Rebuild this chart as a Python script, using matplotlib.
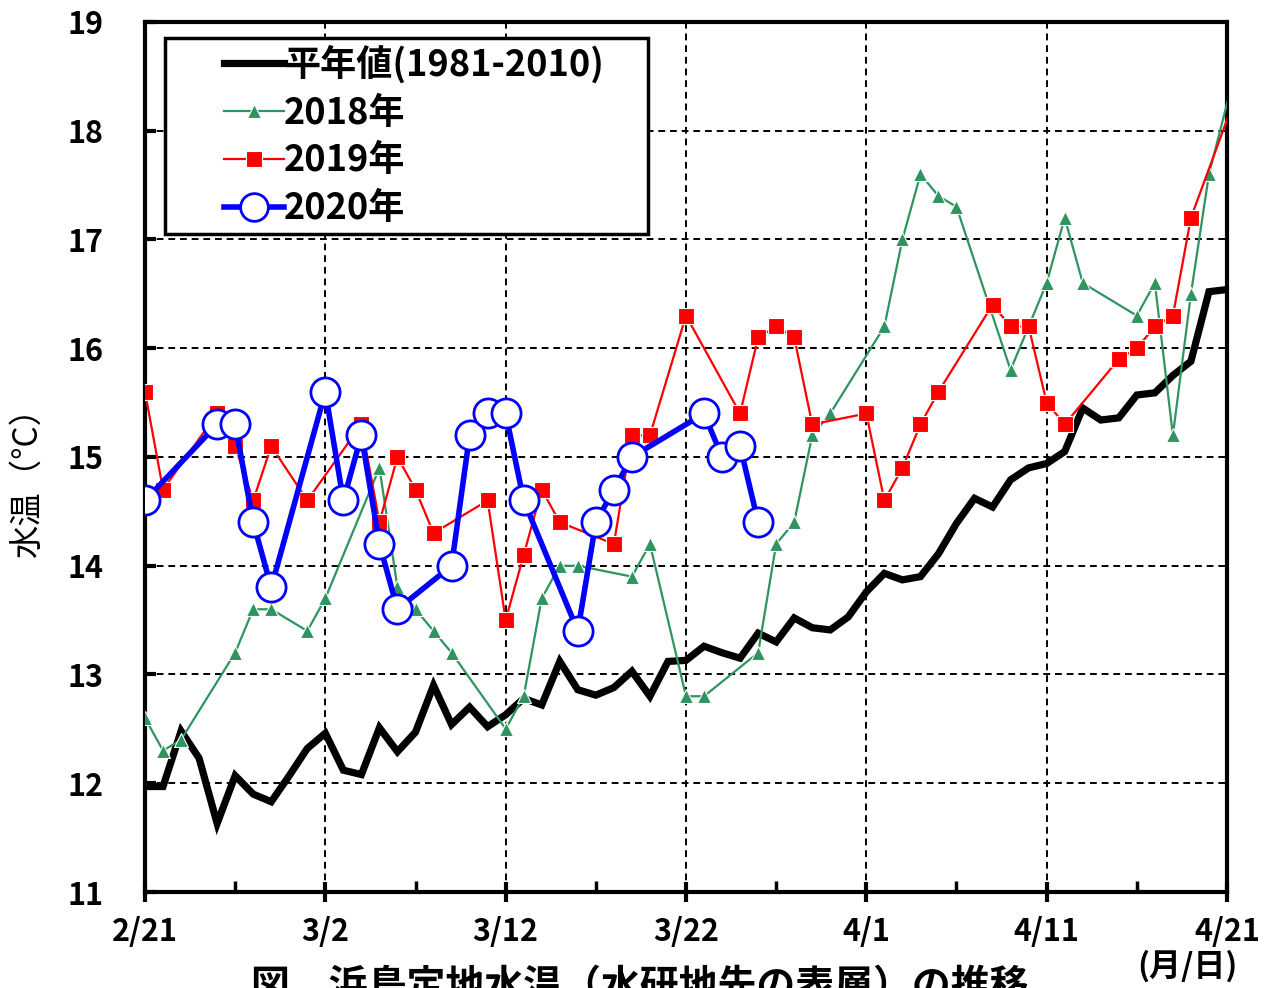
import matplotlib
matplotlib.use("Agg")
import matplotlib.pyplot as plt
from matplotlib.legend_handler import HandlerLine2D
import numpy as np
import warnings
warnings.filterwarnings("ignore")

# ---- data (day offsets from 2/21) ----
normal_days = list(range(0, 61))
normal_vals = [11.97, 11.97, 12.48, 12.23, 11.63, 12.07, 11.90, 11.83, 12.07, 12.32,
               12.46, 12.12, 12.08, 12.51, 12.29, 12.47, 12.90, 12.54, 12.70, 12.52,
               12.63, 12.78, 12.72, 13.12, 12.86, 12.81, 12.88, 13.03, 12.80, 13.12,
               13.13, 13.26, 13.20, 13.15, 13.38, 13.30, 13.52, 13.43, 13.41, 13.53,
               13.76, 13.93, 13.87, 13.90, 14.11, 14.39, 14.62, 14.54, 14.79, 14.90,
               14.94, 15.05, 15.45, 15.34, 15.36, 15.57, 15.59, 15.75, 15.88, 16.52,
               16.54]

y2018_days = [0, 1, 2, 5, 6, 7, 9, 10, 13, 14, 15, 16, 17, 20, 21, 22, 23, 24, 27, 28,
              30, 31, 34, 35, 36, 37, 38, 41, 42, 43, 44, 45, 48, 50, 51, 52, 55, 56,
              57, 58, 59, 61]
y2018_vals = [12.6, 12.3, 12.4, 13.2, 13.6, 13.6, 13.4, 13.7, 14.9, 13.8, 13.6, 13.4,
              13.2, 12.5, 12.8, 13.7, 14.0, 14.0, 13.9, 14.2, 12.8, 12.8, 13.2, 14.2,
              14.4, 15.2, 15.4, 16.2, 17.0, 17.6, 17.4, 17.3, 15.8, 16.6, 17.2, 16.6,
              16.3, 16.6, 15.2, 16.5, 17.6, 18.9]

y2019_days = [0, 1, 4, 5, 6, 7, 9, 12, 13, 14, 15, 16, 19, 20, 21, 22, 23, 26, 27, 28,
              30, 33, 34, 35, 36, 37, 40, 41, 42, 43, 44, 47, 48, 49, 50, 51, 54, 55,
              56, 57, 58, 61]
y2019_vals = [15.6, 14.7, 15.4, 15.1, 14.6, 15.1, 14.6, 15.3, 14.4, 15.0, 14.7, 14.3,
              14.6, 13.5, 14.1, 14.7, 14.4, 14.2, 15.2, 15.2, 16.3, 15.4, 16.1, 16.2,
              16.1, 15.3, 15.4, 14.6, 14.9, 15.3, 15.6, 16.4, 16.2, 16.2, 15.5, 15.3,
              15.9, 16.0, 16.2, 16.3, 17.2, 18.55]

y2020_days = [0, 4, 5, 6, 7, 10, 11, 12, 13, 14, 17, 18, 19, 20, 21, 24, 25, 26, 27,
              31, 32, 33, 34]
y2020_vals = [14.6, 15.3, 15.3, 14.4, 13.8, 15.6, 14.6, 15.2, 14.2, 13.6, 14.0, 15.2,
              15.4, 15.4, 14.6, 13.4, 14.4, 14.7, 15.0, 15.4, 15.0, 15.1, 14.4]

xtick_pos = [0, 10, 20, 30, 40, 50, 60]
xtick_labels = ["2/21", "3/2", "3/12", "3/22", "4/1", "4/11", "4/21"]
ytick_vals = list(range(11, 20))

series_labels = ["平年値(1981-2010)", "2018年", "2019年", "2020年"]

FONT = ["Noto Sans CJK JP", "DejaVu Sans"]
plt.rcParams["font.family"] = FONT


class RightHandler(HandlerLine2D):
    """Legend handle drawn only in the right part of the handle box."""
    def get_xdata(self, legend, xdescent, ydescent, width, height, fontsize):
        x0 = -xdescent + width * 0.46
        x1 = -xdescent + width
        return [x0, x1], [0.5 * (x0 + x1)]


fig = plt.figure(figsize=(12.77, 9.88), dpi=100)
ax = fig.add_axes([145 / 1277, 96 / 988, 1082 / 1277, 870 / 988])

ln0, = ax.plot(normal_days, normal_vals, color="black", lw=5.2, solid_joinstyle="miter",
               label=series_labels[0], zorder=3)
ln1, = ax.plot(y2018_days, y2018_vals, color="#2E9460", lw=1.6, marker="^", ms=10,
               mfc="#2E9460", mec="white", mew=0.8, label=series_labels[1], zorder=4)
ln2, = ax.plot(y2019_days, y2019_vals, color="#FF0000", lw=1.6, marker="s", ms=12,
               mfc="#FF0000", mec="white", mew=0.8, label=series_labels[2], zorder=5)
ln3, = ax.plot(y2020_days, y2020_vals, color="#0000FF", lw=4, marker="o", ms=21,
               mfc="white", mec="#0000FF", mew=2, label=series_labels[3], zorder=6)

ax.set_xlim(0, 60)
ax.set_ylim(11, 19)
ax.set_xticks(xtick_pos)
ax.set_xticklabels(xtick_labels)
ax.set_xticks([5, 15, 25, 35, 45, 55], minor=True)
ax.set_yticks(ytick_vals)

ax.grid(True, which="major", color="black", linestyle=(0, (3.5, 2.5)), lw=1.4)
ax.set_axisbelow(True)

for sp in ax.spines.values():
    sp.set_linewidth(3)
ax.tick_params(axis="x", which="major", direction="inout", length=14, width=3,
               labelsize=22, pad=10)
ax.tick_params(axis="x", which="minor", direction="in", length=8, width=2.5)
ax.tick_params(axis="y", which="major", direction="in", length=8, width=3,
               labelsize=22, pad=30)
for lab in ax.get_xticklabels() + ax.get_yticklabels():
    lab.set_fontweight("bold")

fig.text(27 / 1277, 1 - 474 / 988, "水温（°C）", fontsize=24, rotation=90,
         ha="center", va="center")

leg_w = (648 - 165) / 1082
leg_h = (232 - 38) / 870
leg = ax.legend(handles=[ln0, ln1, ln2, ln3], labels=series_labels,
                loc="upper left",
                bbox_to_anchor=((165 - 145) / 1082, (892 - 38) / 870 - leg_h, leg_w, leg_h),
                mode="expand", borderaxespad=0,
                fancybox=False, edgecolor="black", framealpha=1,
                handlelength=3.1, handletextpad=0.0, labelspacing=0.3,
                borderpad=0.2, markerscale=0.95,
                handler_map={ln0: RightHandler(), ln1: RightHandler(),
                             ln2: RightHandler(), ln3: RightHandler()},
                prop={"family": FONT, "size": 26, "weight": "bold"})
leg.get_frame().set_linewidth(2.5)
leg.set_zorder(10)

fig.text(1187 / 1277, 1 - 966 / 988, "(月/日)", fontsize=23, ha="center", va="center",
         fontweight="bold")
fig.text(640 / 1277, 1 - 967 / 988, "図　浜島定地水温（水研地先の表層）の推移", fontsize=28,
         ha="center", va="top", fontweight="bold")

fig.savefig("out.png", dpi=100)
